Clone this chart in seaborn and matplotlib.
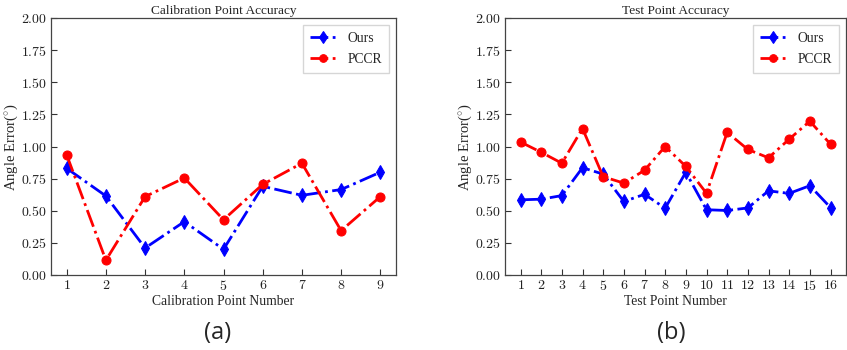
import matplotlib
matplotlib.use("Agg")
import matplotlib.pyplot as plt
import seaborn as sns
import numpy as np

calib_points = list(range(1, 10))
calib_ours = [0.83, 0.615, 0.21, 0.415, 0.20, 0.69, 0.62, 0.665, 0.80]
calib_pccr = [0.935, 0.115, 0.61, 0.755, 0.43, 0.705, 0.87, 0.345, 0.61]

test_points = list(range(1, 17))
test_ours = [0.585, 0.59, 0.618, 0.835, 0.785, 0.572, 0.628, 0.52, 0.80, 0.508,
             0.502, 0.522, 0.655, 0.635, 0.695, 0.525]
test_pccr = [1.035, 0.955, 0.87, 1.14, 0.765, 0.715, 0.815, 1.0, 0.845, 0.636,
             1.11, 0.977, 0.912, 1.057, 1.197, 1.018]

y_ticks = [0.0, 0.25, 0.5, 0.75, 1.0, 1.25, 1.5, 1.75, 2.0]

sns.set_style("white")
plt.rcParams['font.family'] = ['Liberation Serif', 'DejaVu Serif']
plt.rcParams['mathtext.fontset'] = 'cm'

fig = plt.figure(figsize=(8.47, 3.5), dpi=100)
ax1 = fig.add_axes([51/847, 1-275/350, 345/847, 257/350])
ax2 = fig.add_axes([505/847, 1-275/350, 341/847, 257/350])

panels = [
    (ax1, calib_points, calib_ours, calib_pccr, "Calibration Point Accuracy", "Calibration Point Number", "(a)", 218),
    (ax2, test_points, test_ours, test_pccr, "Test Point Accuracy", "Test Point Number", "(b)", 671),
]

for ax, xs, ours, pccr, title, xlabel, tag, tag_x in panels:
    sns.lineplot(x=xs, y=ours, ax=ax, color='blue', marker='d', markersize=7,
                 linestyle='-.', linewidth=2, markeredgecolor='blue', label='Ours')
    sns.lineplot(x=xs, y=pccr, ax=ax, color='red', marker='o', markersize=6.5,
                 linestyle='-.', linewidth=2, markeredgecolor='red', label='PCCR')
    ax.set_ylim(0, 2.0)
    ax.set_yticks(y_ticks)
    ax.set_yticklabels([f"${v:.2f}$" for v in y_ticks])
    ax.set_xticks(xs)
    ax.set_xticklabels([f"${v}$" for v in xs])
    ax.set_xlim(xs[0] - 0.05 * (xs[-1] - xs[0]), xs[-1] + 0.05 * (xs[-1] - xs[0]))
    ax.tick_params(direction='in', labelsize=10, length=4, width=0.8, pad=3,
                   left=True, bottom=True, colors='#333333', labelcolor='#222222')
    for s in ax.spines.values():
        s.set_color('#444444')
        s.set_linewidth(0.9)
    ax.set_title(title, fontsize=9.6, pad=3)
    ax.set_xlabel(xlabel, fontsize=9.8, labelpad=1)
    ax.set_ylabel(r"Angle Error($^{\circ}$)", fontsize=10.5, labelpad=0.5)
    leg = ax.legend(loc='upper right', fontsize=9.8, frameon=True, fancybox=False,
                    handlelength=2.0, borderpad=0.5, labelspacing=0.6, markerscale=0.85)
    leg.get_frame().set_edgecolor('#cccccc')
    fig.text(tag_x / 847, 1 - 333/350, tag,
             ha='center', va='center', fontsize=17, family='Open Sans')

fig.savefig("out.png", dpi=100)
